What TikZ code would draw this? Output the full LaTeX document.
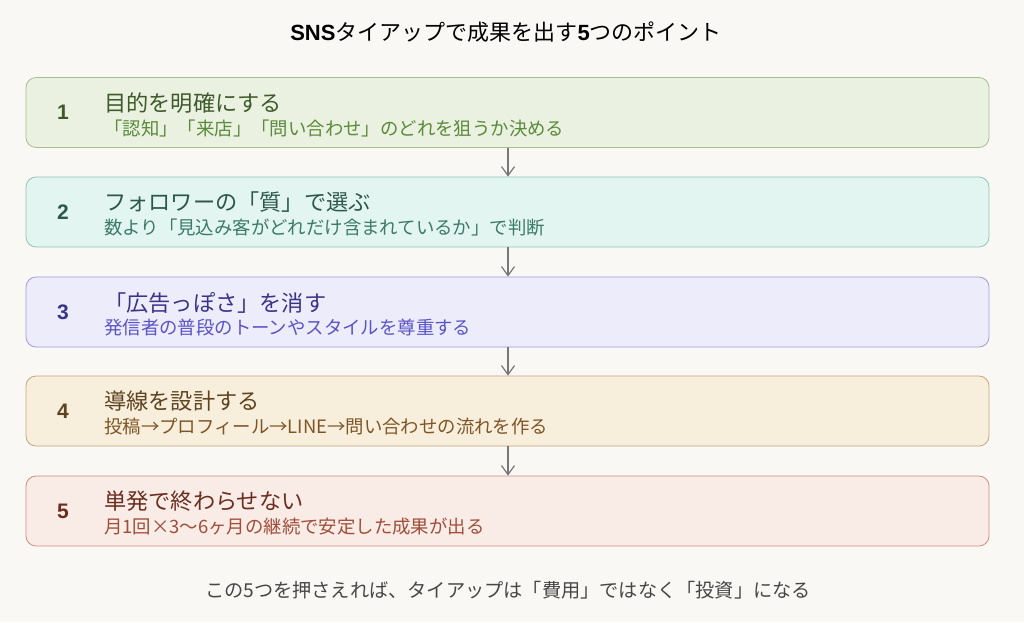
\documentclass[tikz,border=0pt]{standalone}
\usepackage{fontspec}
\setmainfont{Noto Sans CJK JP}
\newfontfamily\digitfont{Liberation Sans}
\usepackage{tikz}
\usetikzlibrary{arrows.meta}

\definecolor{paper}{HTML}{F9F8F5}
\definecolor{arrgray}{HTML}{777777}
\definecolor{fillA}{HTML}{EAF1E0}\definecolor{lineA}{HTML}{A9BE8F}\definecolor{headA}{HTML}{3E5A2A}\definecolor{subA}{HTML}{5A8A3A}
\definecolor{fillB}{HTML}{E3F5F0}\definecolor{lineB}{HTML}{93C4B3}\definecolor{headB}{HTML}{2C574B}\definecolor{subB}{HTML}{3B7A68}
\definecolor{fillC}{HTML}{EDECFB}\definecolor{lineC}{HTML}{9E99E0}\definecolor{headC}{HTML}{3A3388}\definecolor{subC}{HTML}{5A54C6}
\definecolor{fillD}{HTML}{F8EEDC}\definecolor{lineD}{HTML}{C6A57A}\definecolor{headD}{HTML}{5E4320}\definecolor{subD}{HTML}{7E5527}
\definecolor{fillE}{HTML}{F9EBE6}\definecolor{lineE}{HTML}{C9907F}\definecolor{headE}{HTML}{6A2E1E}\definecolor{subE}{HTML}{A04E38}

\begin{document}
\begin{tikzpicture}[x=1pt,y=1pt,
    card/.style={draw, rounded corners=10pt, minimum width=963pt, minimum height=70pt, line width=0.8pt},
    num/.style={font=\fontsize{21}{25}\selectfont\digitfont\bfseries},
    head/.style={anchor=west, inner sep=0pt, font=\fontsize{22.2}{26}\selectfont},
    sub/.style={anchor=west, inner sep=0pt, font=\fontsize{18.4}{22}\selectfont},
    arr/.style={-{Straight Barb[length=9pt,width=13pt]}, draw=arrgray, line width=1.2pt}]
                % page
                \fill[paper] (0,0) rectangle (1024,-622);
                \useasboundingbox (0,0) rectangle (1024,-622);
                \node (title) at (506,-32) {\fontsize{22}{26}\selectfont{\digitfont\bfseries SNS}タイアップで成果を出す{\digitfont\bfseries 5}つのポイント};
                % cards
                \node[card, fill=fillA, draw=lineA] (box1) at (507.5,-112.5) {};
                \node[card, fill=fillB, draw=lineB] (box2) at (507.5,-212) {};
                \node[card, fill=fillC, draw=lineC] (box3) at (507.5,-312) {};
                \node[card, fill=fillD, draw=lineD] (box4) at (507.5,-411) {};
                \node[card, fill=fillE, draw=lineE] (box5) at (507.5,-511) {};
                % numbers
                \node[num, text=headA] (num1) at (63,-112.5) {1};
                \node[num, text=headB] (num2) at (63,-212) {2};
                \node[num, text=headC] (num3) at (63,-312) {3};
                \node[num, text=headD] (num4) at (63,-411) {4};
                \node[num, text=headE] (num5) at (63,-511) {5};
                % headings and notes
                \node[head, text=headA] (head1) at (104,-103) {目的を明確にする};
                \node[sub, text=subA] (sub1) at (104,-128.5) {「認知」「来店」「問い合わせ」のどれを狙うか決める};
                \node[head, text=headB] (head2) at (104,-202.5) {フォロワーの「質」で選ぶ};
                \node[sub, text=subB] (sub2) at (104,-228) {数より「見込み客がどれだけ含まれているか」で判断};
                \node[head, text=headC] (head3) at (104,-302.5) {「広告っぽさ」を消す};
                \node[sub, text=subC] (sub3) at (104,-328) {発信者の普段のトーンやスタイルを尊重する};
                \node[head, text=headD] (head4) at (104,-401.5) {導線を設計する};
                \node[sub, text=subD] (sub4) at (104,-427) {投稿→プロフィール→LINE→問い合わせの流れを作る};
                \node[head, text=headE] (head5) at (104,-501.5) {単発で終わらせない};
                \node[sub, text=subE] (sub5) at (104,-527) {月1回×3〜6ヶ月の継続で安定した成果が出る};
                % arrows
                \draw[arr] (box1.south -| 508,0) -- (box2.north -| 508,0);
                \draw[arr] (box2.south -| 508,0) -- (box3.north -| 508,0);
                \draw[arr] (box3.south -| 508,0) -- (box4.north -| 508,0);
                \draw[arr] (box4.south -| 508,0) -- (box5.north -| 508,0);
                % closing line
                \node[text=black!72] (foot) at (508,-590) {\fontsize{19.2}{23}\selectfont この5つを押さえれば、タイアップは「費用」ではなく「投資」になる};
            \end{tikzpicture}
\end{document}
